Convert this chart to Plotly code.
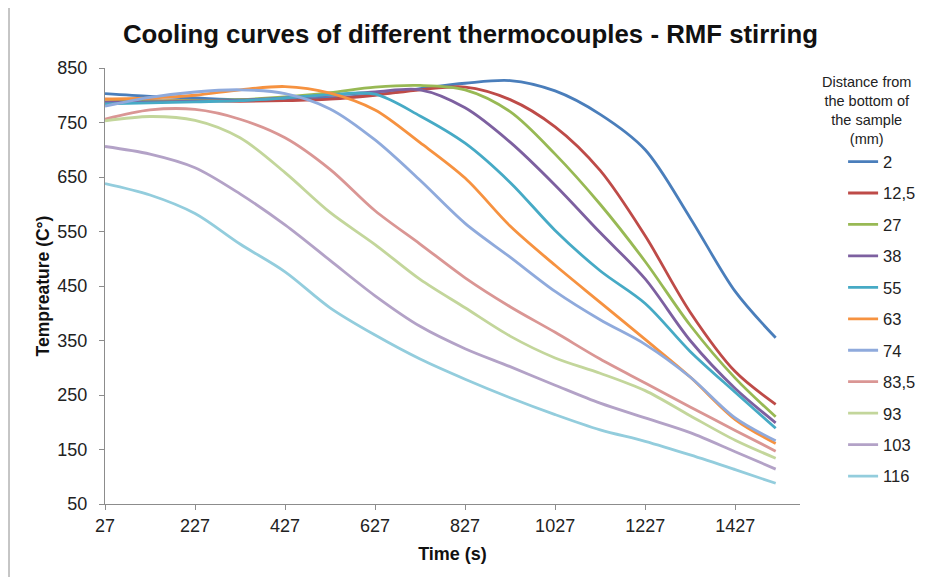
import plotly.graph_objects as go

time_s = [27, 127, 227, 327, 427, 527, 627, 727, 827, 927, 1027, 1127, 1227, 1327, 1427, 1517]

d2    = [803, 798, 795, 792, 792, 795, 801, 812, 822, 827, 808, 765, 700, 575, 440, 355]
d12_5 = [793, 790, 790, 789, 790, 793, 800, 810, 815, 792, 742, 662, 542, 402, 293, 233]
d27   = [788, 789, 790, 792, 797, 805, 815, 818, 810, 770, 692, 600, 495, 378, 281, 210]
d38   = [787, 788, 789, 791, 795, 800, 806, 810, 777, 714, 635, 548, 463, 350, 262, 199]
d55   = [784, 786, 788, 790, 795, 801, 802, 762, 712, 640, 552, 478, 418, 330, 255, 189]
d63   = [793, 795, 800, 810, 816, 804, 773, 713, 648, 560, 488, 420, 352, 283, 205, 161]
d74   = [780, 796, 806, 810, 803, 775, 718, 644, 565, 503, 440, 388, 343, 283, 208, 166]
d83_5 = [756, 773, 774, 756, 722, 664, 588, 527, 465, 412, 365, 316, 272, 228, 185, 147]
d93   = [753, 761, 754, 722, 658, 585, 526, 462, 410, 358, 318, 290, 258, 212, 167, 134]
d103  = [706, 692, 667, 619, 562, 497, 432, 376, 335, 302, 268, 235, 208, 181, 146, 114]
d116  = [638, 617, 583, 527, 476, 410, 360, 316, 279, 245, 214, 186, 165, 140, 113, 88]

series_names = ["2", "12,5", "27", "38", "55", "63", "74", "83,5", "93", "103", "116"]
series_values = [d2, d12_5, d27, d38, d55, d63, d74, d83_5, d93, d103, d116]
colors = ["#4A7EBB", "#BE4B48", "#98B954", "#7D60A0", "#46AAC5", "#F69240",
          "#8FAADC", "#DA9694", "#C3D69B", "#B3A2C7", "#93CDDD"]

x_ticks = [27, 227, 427, 627, 827, 1027, 1227, 1427]

FONT = "Liberation Sans, Arial, sans-serif"

fig = go.Figure()
for name, vals, col in zip(series_names, series_values, colors):
    fig.add_trace(go.Scatter(
        x=time_s, y=vals, name=name, mode="lines",
        line=dict(color=col, width=2.8, shape="spline", smoothing=0.9),
        legendgroup=name,
    ))

fig.update_layout(
    width=925, height=577,
    margin=dict(l=97, r=133, t=60, b=81, autoexpand=False),
    paper_bgcolor="white", plot_bgcolor="white",
    font=dict(family=FONT, color="#222222", size=18),
    title=dict(text="<b>Cooling curves of different thermocouples - RMF stirring</b>",
               x=0.5, xanchor="center", y=0.955, yanchor="middle",
               font=dict(size=25.8, color="#111111")),
    showlegend=True,
    legend=dict(x=1.062, xanchor="left", y=0.825, yanchor="top",
                font=dict(size=16.5, color="#222222"),
                itemwidth=30, tracegroupgap=7, bgcolor="rgba(0,0,0,0)"),
    xaxis=dict(range=[27, 1571], tickmode="array", tickvals=x_ticks,
               ticktext=[str(v) for v in x_ticks], automargin=False,
               showline=True, linecolor="#8C8C8C", linewidth=1,
               ticks="outside", ticklen=5, tickcolor="#8C8C8C",
               showgrid=False, zeroline=False,
               tickfont=dict(size=18, color="#222222"),
               title=dict(text="<b>Time (s)</b>", font=dict(size=18, color="#111111"), standoff=12)),
    yaxis=dict(range=[50, 850], tick0=50, dtick=100, automargin=False,
               showline=True, linecolor="#8C8C8C", linewidth=1,
               ticks="outside", ticklen=5, tickcolor="#8C8C8C",
               ticklabelstandoff=8,
               showgrid=False, zeroline=False,
               tickfont=dict(size=18, color="#222222"),
               title=dict(text="<b>Tempreature (C°)</b>", font=dict(size=17.5, color="#111111"), standoff=3)),
)

fig.add_annotation(text="Distance from<br>the bottom of<br>the sample<br>(mm)",
                   xref="paper", yref="paper",
                   x=(866 - 105) / 695, y=(504 - 110) / 436,
                   xanchor="center", yanchor="middle", align="center", showarrow=False,
                   font=dict(size=14.5, color="#222222", family=FONT))

# thin chart-area border visible at the left edge of the reference
fig.add_shape(type="line", xref="paper", yref="paper",
              x0=(9 - 105) / 695, x1=(9 - 105) / 695,
              y0=(504 - 577) / 436, y1=(504 - 0) / 436,
              line=dict(color="#8C8C8C", width=1))

fig.write_html("out.html")
